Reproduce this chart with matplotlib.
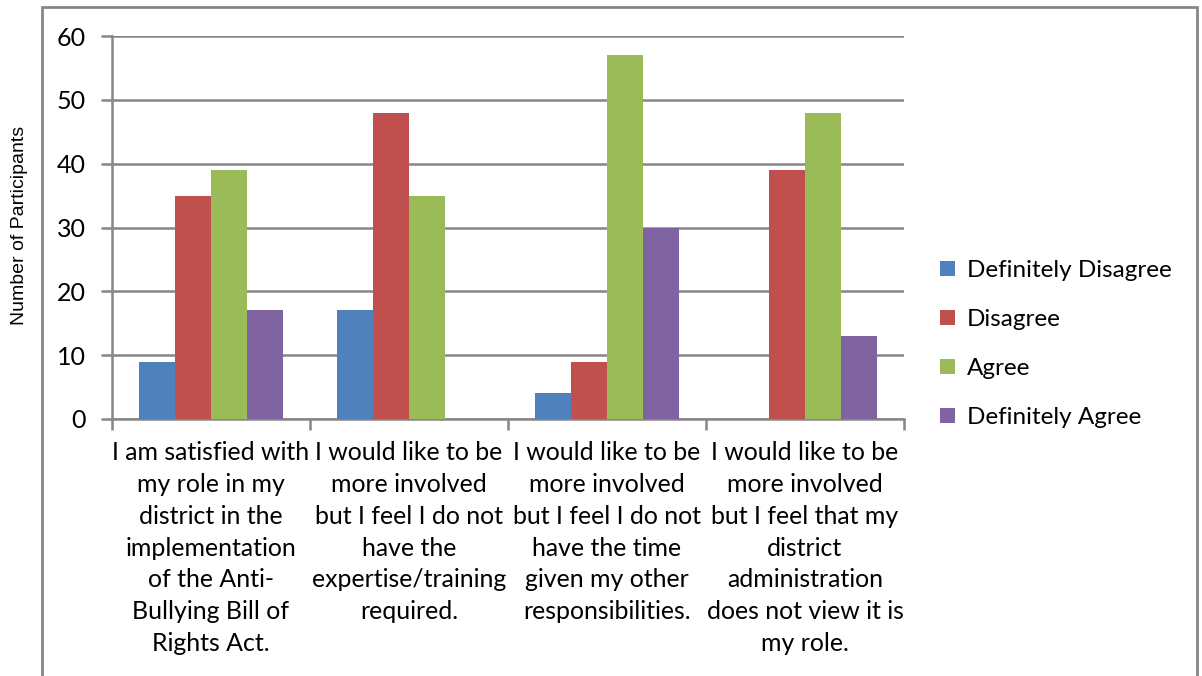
import matplotlib.pyplot as plt
import matplotlib.patches as mpatches
import numpy as np

# survey responses per statement
statements = [
    "I am satisfied with\nmy role in my\ndistrict in the\nimplementation\nof the Anti-\nBullying Bill of\nRights Act.",
    "I would like to be\nmore involved\nbut I feel I do not\nhave the\nexpertise/training\nrequired.",
    "I would like to be\nmore involved\nbut I feel I do not\nhave the time\ngiven my other\nresponsibilities.",
    "I would like to be\nmore involved\nbut I feel that my\ndistrict\nadministration\ndoes not view it is\nmy role.",
]
responses = ["Definitely Disagree", "Disagree", "Agree", "Definitely Agree"]
definitely_disagree = [9, 17, 4, 0]
disagree = [35, 48, 9, 39]
agree = [39, 35, 57, 48]
definitely_agree = [17, 0, 30, 13]
yticks = [0, 10, 20, 30, 40, 50, 60]

series = [definitely_disagree, disagree, agree, definitely_agree]
colors = ["#4F81BD", "#C0504D", "#9BBB59", "#8064A2"]
grid_gray = "#868686"

plt.rcParams['font.family'] = ['Lato', 'DejaVu Sans']

fig = plt.figure(figsize=(12.02, 6.76), dpi=100)
ax = fig.add_axes([112 / 1202, 1 - 419 / 676, 792 / 1202, 383 / 676])

# outer chart border, runs off the bottom edge
fig.patches.append(mpatches.Rectangle((42 / 1202, -0.05), 1155 / 1202, 1.05 - 7 / 676,
                                      transform=fig.transFigure, fill=False,
                                      edgecolor=grid_gray, linewidth=2))

x = np.arange(len(statements))
bw = 0.8 / 4.4
for i, vals in enumerate(series):
    ax.bar(x + (i - 1.5) * bw, vals, width=bw, color=colors[i], label=responses[i], zorder=3)

ax.set_xlim(-0.5, len(statements) - 0.5)
ax.set_ylim(0, 60)
ax.set_yticks(yticks)
ax.set_yticklabels([str(t) for t in yticks], fontsize=18)
ax.yaxis.grid(True, color=grid_gray, linewidth=1.8, zorder=0)
ax.tick_params(axis='y', length=8, color=grid_gray, width=1.8, pad=11)

# category boundaries as ticks, labels placed in between
ax.set_xticks(np.arange(-0.5, len(statements), 1.0))
ax.set_xticklabels([])
ax.tick_params(axis='x', length=8, color=grid_gray, width=1.8, direction='out')
for xi, label in zip(x, statements):
    ax.text(xi, -3.5, label, ha='center', va='top', fontsize=17.9, linespacing=1.46)

for side in ['top', 'right']:
    ax.spines[side].set_visible(False)
ax.spines['left'].set_color(grid_gray)
ax.spines['left'].set_linewidth(1.8)
ax.spines['bottom'].set_color(grid_gray)
ax.spines['bottom'].set_linewidth(1.8)

fig.text(20 / 1202, 1 - 225 / 676, "Number of Participants", rotation=90,
         ha='center', va='center', fontsize=14, family='Liberation Sans')

ax.legend(loc='center left', bbox_to_anchor=(1.018, 1 - (344 - 36) / 383), frameon=False,
          fontsize=17.5, handlelength=0.6, handleheight=0.6, handletextpad=0.5,
          labelspacing=1.15)

fig.savefig("out.png", dpi=100)
